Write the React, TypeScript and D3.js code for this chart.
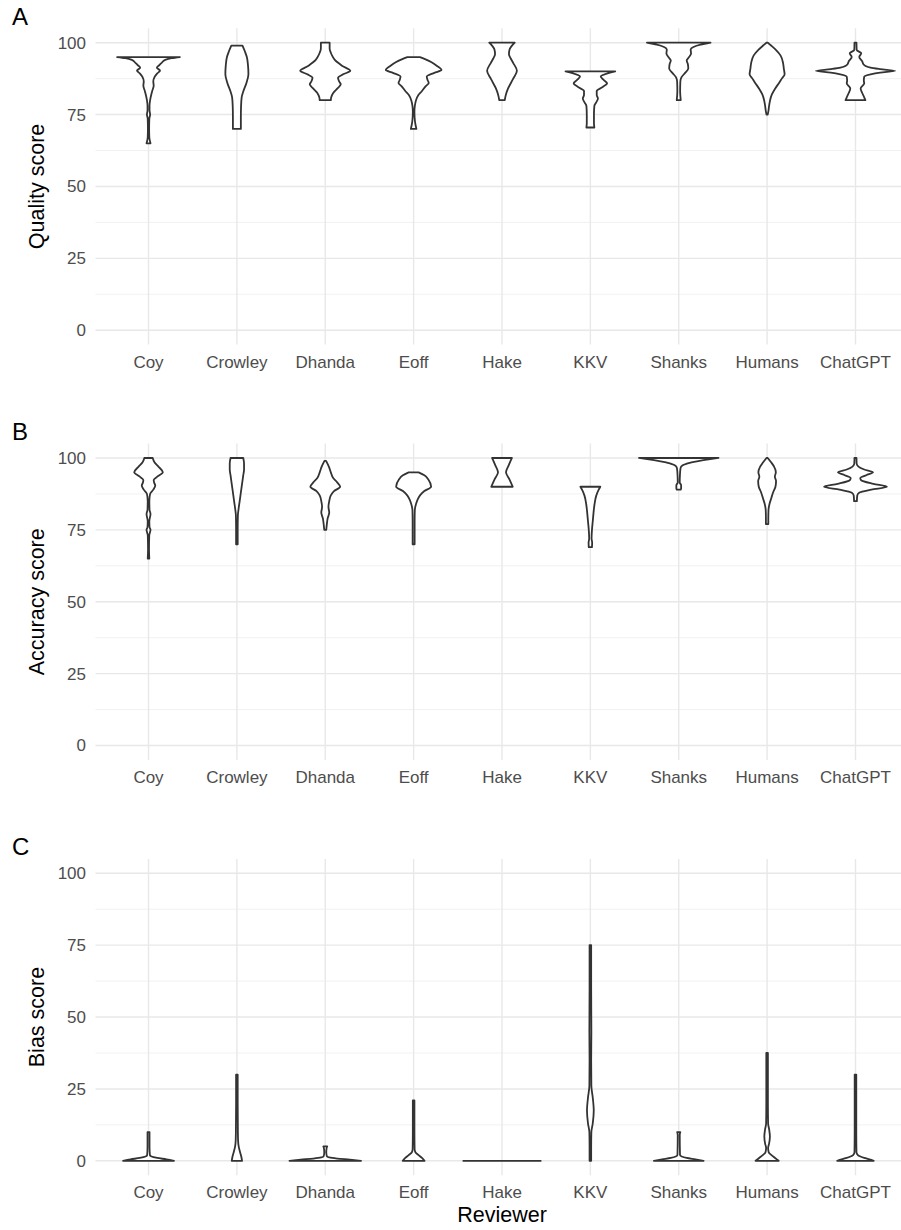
import React, { useEffect, useRef } from 'react';
import * as d3 from 'd3';

const reviewers = ['Coy', 'Crowley', 'Dhanda', 'Eoff', 'Hake', 'KKV', 'Shanks', 'Humans', 'ChatGPT'];
const yTicks = [0, 25, 50, 75, 100];
const yMinorTicks = [12.5, 37.5, 62.5, 87.5];
const panelLabels = ['A', 'B', 'C'];
const panelTitles = ['Quality score', 'Accuracy score', 'Bias score'];
const xTitle = 'Reviewer';

// violin outlines: [score, density], density 100 = widest violin
type Profile = [number, number][];

const quality: Profile[] = [
  [[95, 79], [94.6, 58], [94, 42], [93, 33], [92.3, 28], [91.3, 21], [90.3, 29], [89.3, 22], [88, 15], [86.5, 12], [85, 13], [83.5, 10], [82, 7], [80, 4], [78, 2.5], [76.5, 2.5], [75, 4], [73.5, 2], [70, 1.5], [67, 2], [65, 5]],
  [[99, 14], [97, 20], [95, 25], [92, 28], [89, 29], [86, 24], [83, 16], [81, 12], [78, 10.5], [74, 10], [70, 10]],
  [[100, 11], [98, 11], [96.5, 14], [95.3, 18], [94, 24], [92, 42], [90.2, 63], [89, 45], [87.8, 32], [86.5, 35], [85.5, 39], [84, 30], [82.5, 20], [81, 15], [80, 14]],
  [[95, 16], [94.2, 30], [93.2, 45], [92, 58], [90.5, 70], [89.5, 52], [88.2, 33], [87, 35], [86, 38], [84.8, 30], [83.2, 21], [81.8, 12], [80, 6], [78, 3], [76, 2], [74, 2.5], [72, 4], [70, 7]],
  [[100, 32], [98.8, 24], [97.6, 19], [96, 17.5], [94.5, 22], [93, 28], [90.2, 37.5], [87.3, 27.5], [84, 15], [81.5, 9], [80, 7]],
  [[90, 62.5], [89.4, 45], [88.2, 26], [87, 34], [85.9, 42], [84.5, 30], [83.2, 16], [81.8, 16], [80.6, 19], [79.3, 15], [78, 10], [75, 9], [72, 9], [70.5, 10]],
  [[100, 80], [99.3, 55], [98.5, 37], [97.6, 30], [96.2, 31], [95, 26], [93.8, 20], [92.5, 23], [91, 24], [89.5, 16], [88, 7], [86.5, 4], [83, 3.5], [80, 5]],
  [[100, 1.5], [99, 10], [97.5, 22], [95.5, 34], [93, 40], [91, 42], [89, 44], [87.5, 37], [86, 30], [84, 20], [82, 12], [80, 7.5], [78, 5], [76, 3], [75, 1.5]],
  [[100, 2.5], [97.5, 3], [96.3, 14.5], [95, 9.5], [93.5, 17], [92.5, 20], [91.3, 38], [90.8, 62], [90.2, 100], [89.6, 62], [89, 38], [88.2, 22], [86.8, 21], [85.9, 22], [84.1, 13], [82.5, 17], [81, 22], [80, 25]],
];

const accuracy: Profile[] = [
  [[100, 10.5], [98.5, 15], [97, 25], [95, 36], [93.5, 22], [92.3, 13], [91.5, 14], [90.4, 17], [89, 12], [87.5, 4], [85, 2], [82, 2.5], [80.5, 5], [78, 2], [76, 2.5], [75, 5], [73, 1.8], [68, 1.2], [65, 2]],
  [[100, 16], [98, 18], [96, 18], [94, 16], [91, 13], [88, 10], [85, 7], [82, 4], [80, 2.5], [75, 2], [70, 2]],
  [[99, 2], [97, 9], [95, 14], [93, 20], [91.5, 30], [90, 37.5], [88.5, 22], [87, 14], [85, 10], [83, 8], [81, 10], [79, 6], [77, 4], [75, 2.5]],
  [[95, 12.5], [94, 27], [92.5, 37], [90, 44], [88.5, 27], [87, 16], [85.5, 10], [84, 6], [82, 3], [78, 2.5], [70, 2.5]],
  [[100, 25], [97.5, 17], [95, 10], [92.5, 19], [90, 27]],
  [[90, 25], [89, 21], [87, 15], [84, 10.5], [81, 8], [78, 6], [75, 4], [72, 3], [70.5, 4.5], [69, 4]],
  [[100, 100], [99.5, 75], [99, 52], [98.5, 32], [98, 20], [97.5, 10], [96.5, 4.5], [94, 3], [91.5, 2.5], [90.5, 6], [89.5, 6], [89, 5]],
  [[100, 1.5], [98.5, 10], [97, 17.5], [95, 22], [93.5, 19.5], [92, 22.5], [90, 21], [88, 15], [86, 10.5], [84, 6], [82, 3.5], [79, 3], [77, 3]],
  [[100, 2.5], [98, 3], [97, 7.5], [96, 22], [95, 44], [94, 27], [93, 12], [92.3, 14], [91, 45], [90, 79], [89, 40], [88, 10], [87, 4.5], [85, 3.5]],
];

const bias: Profile[] = [
  [[10, 2.5], [5, 2.5], [2, 3.5], [1.5, 7.5], [1, 22], [0.5, 45], [0, 64]],
  [[30, 2], [20, 2], [10, 2.5], [7, 3], [5, 4.5], [3, 8], [1.5, 11], [0, 13]],
  [[5, 5], [4.5, 3.5], [3, 2.5], [1.6, 4], [1.2, 10], [0.8, 30], [0.4, 62], [0, 90]],
  [[21, 2], [10, 2], [4, 2.5], [3, 4.5], [2, 12.5], [1, 21], [0, 27.5]],
  [[0, 99]],
  [[75, 2], [60, 2], [45, 2.5], [35, 2], [26, 2.5], [22, 6], [17.5, 8.5], [13, 6], [10, 2.5], [5, 2], [0, 2]],
  [[10, 4], [9, 2.5], [2, 3.2], [1.5, 7.5], [1, 20], [0.5, 42], [0, 62.5]],
  [[37.5, 2], [20, 2], [13, 2.5], [11, 5], [8.5, 7], [6, 5], [4.5, 2.5], [3, 4], [2, 11], [1, 20], [0, 29]],
  [[30, 2], [10, 2], [3, 2.5], [2, 6], [1.5, 12.5], [1, 22], [0.5, 35], [0, 46]],
];

const panelData = [quality, accuracy, bias];

const W = 901;
const H = 1230;
const plotLeft = 95.5;
const plotRight = 908.5;
const firstTop = 28.3;
const panelGap = 415.3;
const panelH = 316.3;
const font = "'Liberation Sans', Arial, sans-serif";

const drawPanel = (svg: any, i: number, violins: Profile[]) => {
  const top = firstTop + i * panelGap;
  const bottom = top + panelH;
  const x = d3.scalePoint<string>().domain(reviewers).range([plotLeft, plotRight]).padding(0.6);
  const y = d3.scaleLinear().domain([-5, 105]).range([bottom, top]);
  const w = d3.scaleLinear().domain([0, 100]).range([0, x.step() * 0.45]);

  const g = svg.append('g');

  // grid
  g.selectAll('.minor').data(yMinorTicks).join('line')
    .attr('x1', plotLeft).attr('x2', plotRight)
    .attr('y1', (d: number) => y(d)).attr('y2', (d: number) => y(d))
    .attr('stroke', '#ebebeb').attr('stroke-width', 0.7);
  g.selectAll('.major').data(yTicks).join('line')
    .attr('x1', plotLeft).attr('x2', plotRight)
    .attr('y1', (d: number) => y(d)).attr('y2', (d: number) => y(d))
    .attr('stroke', '#e8e8e8').attr('stroke-width', 1.4);
  g.selectAll('.vgrid').data(reviewers).join('line')
    .attr('x1', (d: string) => x(d)).attr('x2', (d: string) => x(d))
    .attr('y1', top).attr('y2', bottom)
    .attr('stroke', '#e8e8e8').attr('stroke-width', 1.4);

  // violins
  violins.forEach((profile, j) => {
    const cx = x(reviewers[j]) as number;
    if (profile.length === 1) {
      const [s, d] = profile[0];
      g.append('line')
        .attr('x1', cx - w(d)).attr('x2', cx + w(d))
        .attr('y1', y(s)).attr('y2', y(s))
        .attr('stroke', '#333333').attr('stroke-width', 1.8);
      return;
    }
    const sorted = profile.slice().sort((a, b) => b[0] - a[0]);
    const area = d3.area<[number, number]>()
      .y(d => y(d[0]))
      .x0(d => cx - w(d[1]))
      .x1(d => cx + w(d[1]))
      .curve(d3.curveMonotoneY);
    g.append('path')
      .datum(sorted)
      .attr('d', area)
      .attr('fill', 'white')
      .attr('stroke', '#333333')
      .attr('stroke-width', 1.8)
      .attr('stroke-linejoin', 'round');
  });

  // y tick labels
  g.selectAll('.ytick').data(yTicks).join('text')
    .attr('x', 86).attr('y', (d: number) => y(d))
    .attr('dy', '0.35em')
    .attr('text-anchor', 'end')
    .attr('fill', '#4d4d4d')
    .style('font-family', font).style('font-size', '17px')
    .text((d: number) => d);

  // x tick labels
  g.selectAll('.xtick').data(reviewers).join('text')
    .attr('x', (d: string) => x(d)).attr('y', bottom + 23)
    .attr('text-anchor', 'middle')
    .attr('fill', '#4d4d4d')
    .style('font-family', font).style('font-size', '17px')
    .text((d: string) => d);

  // y title
  g.append('text')
    .attr('transform', `translate(44,${(top + bottom) / 2}) rotate(-90)`)
    .attr('text-anchor', 'middle')
    .attr('fill', 'black')
    .style('font-family', font).style('font-size', '21.5px')
    .text(panelTitles[i]);

  // panel tag
  g.append('text')
    .attr('x', 12).attr('y', top - 3.5)
    .attr('fill', 'black')
    .style('font-family', font).style('font-size', '24px')
    .text(panelLabels[i]);

  if (i === 2) {
    g.append('text')
      .attr('x', (plotLeft + plotRight) / 2).attr('y', bottom + 47)
      .attr('text-anchor', 'middle')
      .attr('fill', 'black')
      .style('font-family', font).style('font-size', '21.5px')
      .text(xTitle);
  }
};

const App = () => {
  const ref = useRef<SVGSVGElement>(null);

  useEffect(() => {
    const svg = d3.select(ref.current);
    svg.selectAll('*').remove();
    svg.append('rect').attr('width', W).attr('height', H).attr('fill', 'white');
    panelData.forEach((violins, i) => drawPanel(svg, i, violins));
  }, []);

  return (
    <svg
      ref={ref}
      width={W}
      height={H}
      style={{ position: 'absolute', left: 0, top: 0, display: 'block' }}
    />
  );
};

export default App;
